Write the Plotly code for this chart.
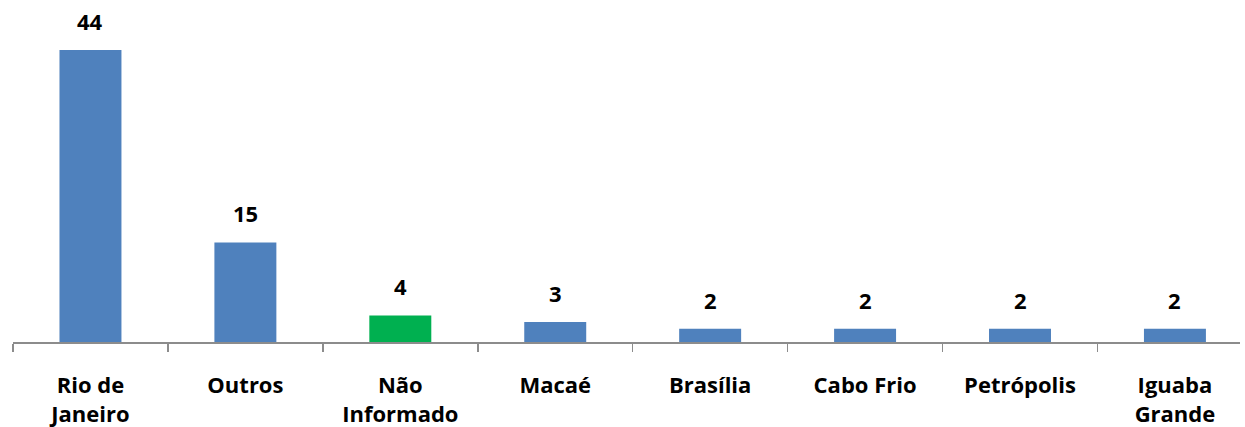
import plotly.graph_objects as go

categories = ["Rio de<br>Janeiro", "Outros", "Não<br>Informado", "Macaé", "Brasília",
              "Cabo Frio", "Petrópolis", "Iguaba<br>Grande"]
values = [44, 15, 4, 3, 2, 2, 2, 2]
colors = ["#4F81BD", "#4F81BD", "#00B050", "#4F81BD", "#4F81BD", "#4F81BD", "#4F81BD", "#4F81BD"]

FONT = "Open Sans"

fig = go.Figure()
fig.add_trace(go.Bar(x=categories, y=values, marker=dict(color=colors, line=dict(width=0)),
                     width=0.4, hoverinfo="skip"))

for c, v in zip(categories, values):
    fig.add_annotation(x=c, y=v, text=f"<b>{v}</b>", showarrow=False, yanchor="bottom",
                       yshift=12, font=dict(family=FONT, size=22, color="#000000"))

fig.update_layout(
    width=1245, height=427,
    margin=dict(l=13, r=5, t=0, b=85),
    paper_bgcolor="white", plot_bgcolor="white",
    showlegend=False,
    bargap=0.6,
    font=dict(family=FONT, size=22, color="#000000"),
)
fig.update_xaxes(
    type="category", range=[-0.5, 7.42], automargin=False,
    showline=True, linecolor="#8C8C8C", linewidth=1.5,
    ticks="outside", tickson="boundaries", ticklen=8, tickcolor="#8C8C8C", tickwidth=1.5,
    ticklabelstandoff=23,
    tickfont=dict(family=FONT, size=22, color="#000000", weight="bold"),
    showgrid=False, zeroline=False,
)
fig.update_yaxes(range=[0, 51.53], visible=False, showgrid=False, zeroline=False,
                 automargin=False)

fig.write_html("out.html", config={"displayModeBar": False, "staticPlot": True},
               post_script="document.body.style.margin='0';document.body.style.overflow='hidden';")
